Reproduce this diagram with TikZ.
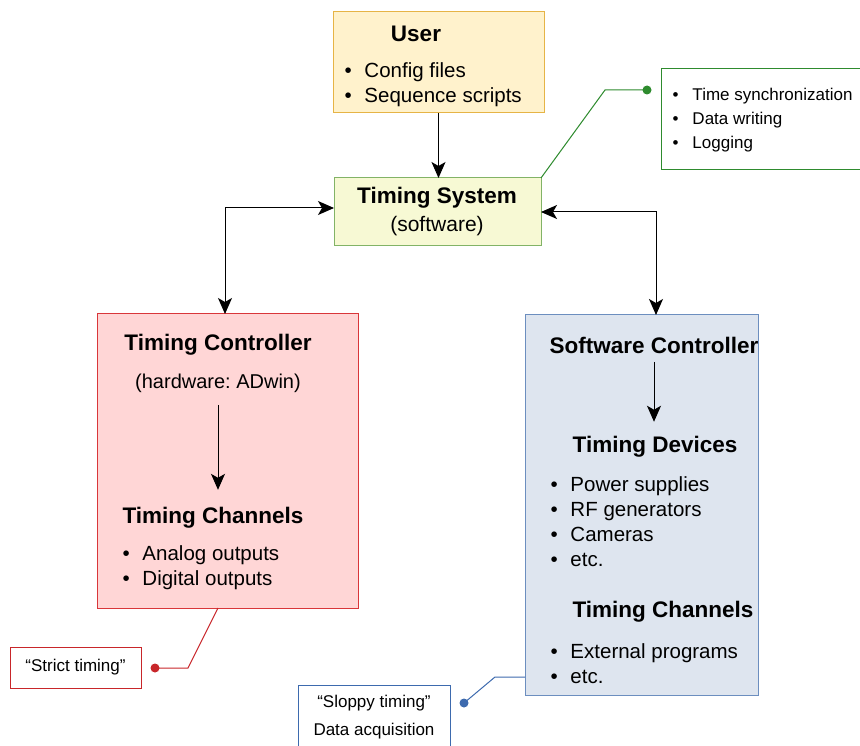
\documentclass[tikz,border=0pt]{standalone}
\usepackage{fontspec}
\setmainfont{Liberation Sans}
\usetikzlibrary{arrows.meta}
\frenchspacing

\definecolor{userfill}{HTML}{FFF2CC}
\definecolor{userdraw}{HTML}{E6B446}
\definecolor{sysfill}{HTML}{F7F9D4}
\definecolor{sysdraw}{HTML}{82B366}
\definecolor{hwfill}{HTML}{FFD6D6}
\definecolor{hwdraw}{HTML}{D9363A}
\definecolor{swfill}{HTML}{DEE5EF}
\definecolor{swdraw}{HTML}{6C8EBF}
\definecolor{notegreen}{HTML}{2E8B2E}
\definecolor{notered}{HTML}{C8262A}
\definecolor{noteblue}{HTML}{3D6AAE}

\newcommand{\bul}{\makebox[20pt][l]{\textbullet}}

\begin{document}
\begin{tikzpicture}[
  x=1pt, y=-1pt,
  >={Stealth[length=16pt,width=14pt,inset=4pt]},
  line width=1pt,
  box/.style={draw,outer sep=0pt,inner sep=0pt},
  title/.style={inner sep=0pt,font=\bfseries\fontsize{22.5}{26}\selectfont},
  plain/.style={inner sep=0pt,font=\fontsize{20}{25}\selectfont},
  bullets/.style={anchor=west,inner sep=0pt,align=left,font=\fontsize{20.5}{25}\selectfont},
  smallbullets/.style={anchor=west,inner sep=0pt,align=left,font=\fontsize{17}{24}\selectfont},
  notetext/.style={inner sep=0pt,align=center,font=\fontsize{17}{28}\selectfont}
]
  \clip (0,0) rectangle (860,746);

  % boxes
  \node[box,fill=userfill,draw=userdraw,minimum width=211pt,minimum height=101pt] (user) at (438.5,62.5) {};
  \node[box,fill=sysfill,draw=sysdraw,minimum width=207pt,minimum height=68pt] (sys) at (437.5,212) {};
  \node[box,draw=notegreen,minimum width=209pt,minimum height=101pt] (gnote) at (765.5,119.5) {};
  \node[box,fill=hwfill,draw=hwdraw,minimum width=261pt,minimum height=294pt] (tc) at (227.5,461) {};
  \node[box,fill=swfill,draw=swdraw,minimum width=233pt,minimum height=380pt] (sc) at (641.5,505) {};
  \node[box,draw=notered,minimum width=131pt,minimum height=41pt] (rnote) at (75.5,667.5) {};
  \node[box,draw=noteblue,minimum width=152pt,minimum height=75pt] (bnote) at (374,722.5) {};

  % texts
  \node[title] (usertitle) at (416,34) {User};
  \node[bullets] (userlist) at (344,84.5) {\bul Config files\\\bul Sequence scripts};
  \node[title] (systitle) at (437,198) {Timing System};
  \node[plain,font=\fontsize{21}{25}\selectfont] (syssub) at (437,226) {(software)};
  \node[smallbullets] (glist) at (672,120) {\bul Time synchronization\\\bul Data writing\\\bul Logging};

  \node[title] (tctitle) at (218,345) {Timing Controller};
  \node[plain] (tcsub) at (218,383) {(hardware: ADwin)};
  \node[title] (tcchan) at (213,518) {Timing Channels};
  \node[bullets] (tclist) at (122,567.5) {\bul Analog outputs\\\bul Digital outputs};

  \node[title] (sctitle) at (654,345) {Software Controller};
  \node[title] (scdev) at (655,447) {Timing Devices};
  \node[bullets] (sclist) at (550,521.5) {\bul Power supplies\\\bul RF generators\\\bul Cameras\\\bul etc.};
  \node[title] (scchan) at (663,612) {Timing Channels};
  \node[bullets] (sclist2) at (550,663.5) {\bul External programs\\\bul etc.};

  \node[notetext] (rtext) at (75.5,667) {``Strict timing''};
  \node[notetext] (btext) at (374,717) {``Sloppy timing''\\Data acquisition};

  % arrows
  \draw[->] (user.south) -- (user.south |- sys.north);
  \draw[<->] ([yshift=4pt]sys.west) -| ([xshift=-2.5pt]tc.north);
  \draw[<->] (sys.east) -| ([xshift=14.5pt]sc.north);
  \draw[->] ([yshift=-12pt]tcsub.south) -- ([yshift=-97pt]tcsub.south);
  \draw[->] ([yshift=-8pt]sctitle.south) -- ([yshift=-68pt]sctitle.south);

  % note connectors
  \coordinate (gbend) at (605,90);
  \coordinate (gdot) at (647,90);
  \draw[notegreen] (sys.north east) -- (gbend) -- (gdot);
  \fill[notegreen] (gdot) circle (4.5);

  \coordinate (rbend) at (188,668);
  \coordinate (rdot) at (155,668);
  \draw[notered] ([xshift=-9.5pt]tc.south) -- (rbend) -- (rdot);
  \fill[notered] (rdot) circle (4.5);

  \coordinate (bbend) at (495,677);
  \coordinate (bdot) at (464,703);
  \draw[noteblue] (bbend -| sc.west) -- (bbend) -- (bdot);
  \fill[noteblue] (bdot) circle (4.5);
\end{tikzpicture}
\end{document}
